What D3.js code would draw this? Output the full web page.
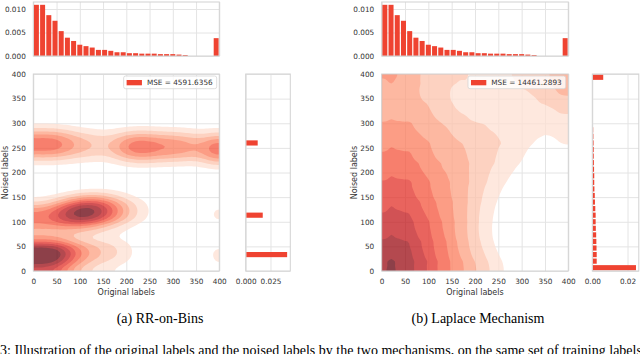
<!DOCTYPE html>
<html>
<head>
<meta charset="utf-8">
<script src="https://cdn.jsdelivr.net/npm/d3@7"></script>
<style>
body { margin: 0; background: #fff; }
svg { display: block; }
</style>
</head>
<body>
<svg id="fig" width="640" height="354"></svg>
<script>
// all histograms use 30 bins over [0, 400]
var binWidth = 400 / 30;

// density of the original labels (top histograms, same in both panels)
var origHist = [0.0109, 0.0109, 0.0087, 0.0075, 0.0053, 0.0039, 0.0032, 0.0024, 0.0021, 0.0018,
                0.0013, 0.0013, 0.0011, 0.0008, 0.0008, 0.0006, 0.0006, 0.0005, 0.0005, 0.0005,
                0.0004, 0.0004, 0.0004, 0.0003, 0.0002, 0, 0, 0, 0, 0.0038];

// density of the noised labels (right histograms)
var rrNoisedHist = [0, 0, 0.0418, 0, 0, 0, 0, 0, 0.0172, 0,
                    0, 0, 0, 0, 0, 0, 0, 0, 0, 0.0121,
                    0, 0, 0, 0, 0, 0, 0, 0, 0, 0];
var lapNoisedHist = [0.0248, 0.0025, 0.0025, 0.0024, 0.0023, 0.0022, 0.0020, 0.0019, 0.0019, 0.0017,
                     0.0015, 0.0014, 0.0012, 0.0011, 0.0011, 0.0010, 0.0009, 0.0008, 0.0008, 0.0007,
                     0.0006, 0.0005, 0, 0, 0, 0, 0, 0, 0, 0.0062];

var labelTicks = [0, 50, 100, 150, 200, 250, 300, 350, 400];
var topTicks = [0, 0.005, 0.010];
var rrMargTicks = [0, 0.025];
var lapMargTicks = [0, 0.02];

var legendTexts = ["MSE = 4591.6356", "MSE = 14461.2893"];
var captions = ["(a) RR-on-Bins", "(b) Laplace Mechanism"];
var figCaption = "3:  Illustration of the original labels and the noised labels by the two mechanisms, on the same set of training labels.";

// kde samples for RR-on-Bins: [original, noised, weight]
var rrPoints = [
  [0, 33, 11], [20, 33, 12.5], [40, 33, 12.5], [60, 34, 10.5], [80, 35, 7.5], [100, 36, 5.5],
  [120, 37, 4.2], [140, 38, 3.4], [160, 39, 2.9], [180, 39, 2.3], [200, 39, 1.6], [220, 39, 0.8],
  [380, 33, 1.2], [400, 33, 2],
  [0, 108, 5.8], [20, 108, 6.3], [40, 110, 6.3], [60, 113, 8.3], [80, 116, 10.3], [100, 118, 11.3],
  [120, 120, 11.3], [140, 121, 10.2], [160, 122, 8], [180, 122, 5.5], [200, 122, 3.6], [220, 122, 2.2],
  [240, 122, 1.3], [260, 122, 0.6], [380, 115, 1.2], [400, 115, 1.9],
  [0, 257, 6], [20, 257, 6.5], [40, 257, 6.8], [60, 257, 6], [80, 256, 4.6], [100, 256, 3.8],
  [120, 255, 3.5], [140, 255, 3.1], [160, 254, 2.4], [180, 253, 3.8], [200, 252, 6], [220, 252, 6.8],
  [240, 252, 6.6], [260, 252, 6], [280, 252, 5.5], [300, 252, 5.4], [320, 252, 5.2], [340, 252, 4.8],
  [360, 250, 3.3], [380, 248, 5.5], [400, 248, 9]
];

// laplace density levels read on a 40 x 40 grid (rows: noised 0 -> 400, cols: original 0 -> 400)
var lapGridStep = 40;
var lapGrid = [
  [9.2, 9.6, 7.7, 6.2, 4.7, 3.4, 2.2, 0.4, 0, 0, 0],
  [8.4, 8.8, 7.4, 5.9, 4.1, 2.6, 1.0, 0, 0, 0, 0],
  [7.6, 8.0, 7.0, 5.5, 3.9, 2.2, 0.7, 0, 0, 0, 0],
  [6.9, 7.35, 6.4, 5.1, 3.9, 2.3, 0.9, 0, 0, 0, 0],
  [6.2, 6.7, 5.9, 4.7, 3.8, 2.5, 1.3, 0.3, 0, 0, 0],
  [5.6, 6.0, 5.3, 4.2, 3.6, 2.8, 1.9, 1.0, 0.2, 0, 0.6],
  [5.0, 5.3, 4.7, 3.8, 3.3, 2.7, 2.2, 1.6, 0.8, 0.3, 1.2],
  [4.3, 4.55, 4.1, 3.4, 3.0, 2.4, 2.1, 1.9, 1.2, 0.9, 1.4],
  [3.7, 3.8, 3.5, 2.9, 1.9, 1.6, 1.6, 1.6, 1.5, 1.6, 2.2],
  [3.4, 3.3, 3.0, 2.2, 1.6, 1.5, 1.5, 1.6, 2.0, 2.6, 3.5],
  [4.3, 4.8, 3.0, 2.3, 2.3, 2.2, 2.1, 2.2, 2.4, 3.0, 5.0]
];

var lapPoints = [];
lapGrid.forEach(function(row, j) {
  row.forEach(function(v, i) { lapPoints.push([i * lapGridStep, j * lapGridStep, v]); });
});

// layout
var topTop = 2, topBottom = 56, mainTop = 74, mainBottom = 271;
var barColor = "#ef4331";
var gridColor = "#e4e4e4";
var spineColor = "#d2d2d2";
var textColor = "#333";
var font = "DejaVu Sans";

var panels = [
  {left: 33.3, right: 219.3, margLeft: 245.7, margRight: 290.3, margMax: 0.045,
   margTicks: rrMargTicks, margFmt: ".3f", noised: rrNoisedHist, points: rrPoints,
   bw: 10, spacing: 20, line: true, legend: legendTexts[0], caption: captions[0], capX: 160},
  {left: 381.7, right: 568.3, margLeft: 592.3, margRight: 638.8, margMax: 0.0264,
   margTicks: lapMargTicks, margFmt: ".2f", noised: lapNoisedHist, points: lapPoints,
   bw: 11, spacing: lapGridStep, line: false, legend: legendTexts[1], caption: captions[1], capX: 478}
];

var svg = d3.select("#fig");

// mirror the samples at the axis limits so the kde does not fade at the borders
function reflect(pts) {
  var out = [];
  pts.forEach(function(d) {
    var xs = [d[0]], ys = [d[1]];
    if (d[0] > 0) xs.push(-d[0]);
    if (d[0] < 400) xs.push(800 - d[0]);
    if (d[1] > 0) ys.push(-d[1]);
    if (d[1] < 400) ys.push(800 - d[1]);
    xs.forEach(function(px) {
      ys.forEach(function(py) { out.push([px, py, d[2]]); });
    });
  });
  return out;
}

function styleText(sel, size) {
  sel.attr("font-family", font).attr("font-size", size).attr("fill", textColor);
}

function gridLines(g, axis, tr) {
  g.append("g").attr("transform", tr).call(axis.tickFormat(""))
    .call(function(s) { s.select(".domain").remove(); })
    .selectAll("line").attr("stroke", gridColor).attr("stroke-width", 1);
}

function spines(g, x0, y0, x1, y1) {
  g.append("rect").attr("x", x0).attr("y", y0).attr("width", x1 - x0).attr("height", y1 - y0)
    .attr("fill", "none").attr("stroke", spineColor).attr("stroke-width", 1);
}

function drawPanel(p, idx) {
  var x = d3.scaleLinear().domain([0, 400]).range([p.left, p.right]);
  var y = d3.scaleLinear().domain([0, 400]).range([mainBottom, mainTop]);
  var yTop = d3.scaleLinear().domain([0, 0.0115]).range([topBottom, topTop]);
  var xMarg = d3.scaleLinear().domain([0, p.margMax]).range([p.margLeft, p.margRight]);
  var g = svg.append("g");
  var w = p.right - p.left, h = mainBottom - mainTop;

  // ---- top histogram of original labels
  gridLines(g, d3.axisBottom(x).tickValues(labelTicks).tickSize(-(topBottom - topTop)), "translate(0," + topBottom + ")");
  gridLines(g, d3.axisLeft(yTop).tickValues(topTicks).tickSize(-w), "translate(" + p.left + ",0)");
  g.append("g").selectAll("rect")
    .data(origHist.map(function(v, i) { return {i: i, v: v}; }).filter(function(d) { return d.v > 0; }))
    .enter().append("rect")
    .attr("x", function(d) { return x(d.i * binWidth) + 0.6; })
    .attr("width", x(binWidth) - x(0) - 1.2)
    .attr("y", function(d) { return yTop(d.v); })
    .attr("height", function(d) { return yTop(0) - yTop(d.v); })
    .attr("fill", barColor);
  spines(g, p.left, topTop, p.right, topBottom);
  g.append("g").attr("transform", "translate(" + p.left + ",0)")
    .call(d3.axisLeft(yTop).tickValues(topTicks).tickSize(0).tickPadding(7.5).tickFormat(d3.format(".3f")))
    .call(function(s) { s.select(".domain").remove(); })
    .call(function(s) { styleText(s.selectAll("text"), 7.3); });

  // ---- joint kde
  gridLines(g, d3.axisBottom(x).tickValues(labelTicks).tickSize(-h), "translate(0," + mainBottom + ")");
  gridLines(g, d3.axisLeft(y).tickValues(labelTicks).tickSize(-w), "translate(" + p.left + ",0)");

  var clipId = "clip" + idx;
  svg.append("clipPath").attr("id", clipId).append("rect")
    .attr("x", 0).attr("y", 0).attr("width", w).attr("height", h);

  var lx = d3.scaleLinear().domain([0, 400]).range([0, w]);
  var ly = d3.scaleLinear().domain([0, 400]).range([h, 0]);
  var dxp = lx(p.spacing), dyp = h - ly(p.spacing);
  // density that a weight of 1 gives: a line of samples or a full grid of samples
  var unit = p.line ? 1 / (dxp * Math.sqrt(2 * Math.PI) * p.bw) : 1 / (dxp * dyp);
  var levels = d3.range(1, 10).map(function(k) { return k * unit; });

  var dens = d3.contourDensity()
    .x(function(d) { return lx(d[0]); })
    .y(function(d) { return ly(d[1]); })
    .weight(function(d) { return d[2]; })
    .size([w, h])
    .cellSize(2)
    .bandwidth(p.bw)
    .thresholds(levels);
  var cs = dens(reflect(p.points));

  g.append("g").attr("transform", "translate(" + p.left + "," + mainTop + ")")
    .attr("clip-path", "url(#" + clipId + ")")
    .attr("opacity", 0.75)
    .selectAll("path").data(cs).enter().append("path")
    .attr("d", d3.geoPath())
    .attr("fill", function(d, i) { return d3.interpolateReds((i + 1) / 9); });

  spines(g, p.left, mainTop, p.right, mainBottom);

  g.append("g").attr("transform", "translate(0," + mainBottom + ")")
    .call(d3.axisBottom(x).tickValues(labelTicks).tickSize(0).tickPadding(7.5))
    .call(function(s) { s.select(".domain").remove(); })
    .call(function(s) { styleText(s.selectAll("text"), 7.3); });
  g.append("g").attr("transform", "translate(" + p.left + ",0)")
    .call(d3.axisLeft(y).tickValues(labelTicks).tickSize(0).tickPadding(7.5))
    .call(function(s) { s.select(".domain").remove(); })
    .call(function(s) { styleText(s.selectAll("text"), 7.3); });

  g.append("text").attr("x", (p.left + p.right) / 2).attr("y", 294.5)
    .attr("text-anchor", "middle").text("Original labels").call(styleText, 8);
  g.append("text").attr("transform", "translate(" + (p.left - 28) + "," + ((mainTop + mainBottom) / 2) + ") rotate(-90)")
    .attr("text-anchor", "middle").attr("dy", "0.35em").text("Noised labels").call(styleText, 8);

  // legend
  var lg = g.append("g");
  var box = lg.append("rect").attr("y", mainTop + 2).attr("height", 12.7).attr("rx", 2)
    .attr("fill", "#fff").attr("fill-opacity", 0.8).attr("stroke", "#d6d6d6").attr("stroke-width", 0.8);
  var lt = lg.append("text").attr("y", mainTop + 8.4).attr("dy", "0.35em").text(p.legend).call(styleText, 7.3);
  var tw = lt.node().getComputedTextLength();
  var bw = 3 + 15.3 + 5 + tw + 4;
  var bx = p.right - 2.6 - bw;
  box.attr("x", bx).attr("width", bw);
  lg.append("rect").attr("x", bx + 3).attr("y", mainTop + 6).attr("width", 15.3).attr("height", 5.3).attr("fill", barColor);
  lt.attr("x", bx + 3 + 15.3 + 5);

  // ---- right histogram of noised labels
  gridLines(g, d3.axisLeft(y).tickValues(labelTicks).tickSize(-(p.margRight - p.margLeft)), "translate(" + p.margLeft + ",0)");
  gridLines(g, d3.axisBottom(xMarg).tickValues(p.margTicks).tickSize(-h), "translate(0," + mainBottom + ")");
  g.append("g").selectAll("rect")
    .data(p.noised.map(function(v, i) { return {i: i, v: v}; }).filter(function(d) { return d.v > 0; }))
    .enter().append("rect")
    .attr("x", xMarg(0) + 0.6)
    .attr("width", function(d) { return Math.max(0, xMarg(d.v) - xMarg(0) - 0.6); })
    .attr("y", function(d) { return y((d.i + 1) * binWidth) + 0.7; })
    .attr("height", y(0) - y(binWidth) - 1.4)
    .attr("fill", barColor);
  spines(g, p.margLeft, mainTop, p.margRight, mainBottom);
  g.append("g").attr("transform", "translate(0," + mainBottom + ")")
    .call(d3.axisBottom(xMarg).tickValues(p.margTicks).tickSize(0).tickPadding(7.5).tickFormat(d3.format(p.margFmt)))
    .call(function(s) { s.select(".domain").remove(); })
    .call(function(s) { styleText(s.selectAll("text"), 7.3); });

  // sub caption
  svg.append("text").attr("x", p.capX).attr("y", 323).attr("text-anchor", "middle")
    .attr("font-family", "Liberation Serif").attr("font-size", 14).attr("fill", "#000")
    .text(p.caption);
}

panels.forEach(drawPanel);

// figure caption, cut by the bottom of the picture as in the source page
svg.append("text").attr("x", 0).attr("y", 355).attr("font-family", "Liberation Serif")
  .attr("font-size", 14).attr("fill", "#000").text(figCaption);
</script>
</body>
</html>
